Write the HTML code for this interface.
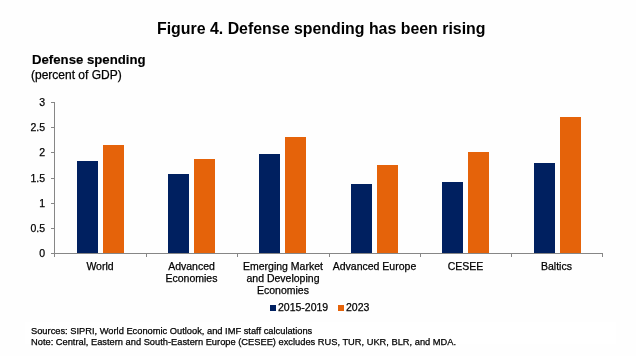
<!DOCTYPE html>
<html>
<head>
<meta charset="utf-8">
<style>
html,body{margin:0;padding:0;background:#fefefe;}
body{width:636px;height:356px;position:relative;overflow:hidden;font-family:"Liberation Sans",sans-serif;color:#000;}
.t{position:absolute;white-space:nowrap;line-height:1;will-change:transform;-webkit-text-stroke:0.25px #000;}
.c{text-align:center;}
svg{position:absolute;left:0;top:0;}
</style>
</head>
<body>
<div class="t" style="left:156.8px;top:21px;font-size:15.9px;font-weight:bold;-webkit-text-stroke:0;">Figure 4. Defense spending has been rising</div>
<div class="t" style="left:31.5px;top:53px;font-size:13.2px;font-weight:bold;-webkit-text-stroke:0.15px #000;">Defense spending</div>
<div class="t" style="left:31px;top:69px;font-size:12px;">(percent of GDP)</div>

<svg width="636" height="356" viewBox="0 0 636 356" shape-rendering="crispEdges">
  <g fill="#002060">
    <rect x="77" y="161" width="21" height="92"/>
    <rect x="168" y="174" width="21" height="79"/>
    <rect x="259" y="154" width="21" height="99"/>
    <rect x="351" y="184" width="21" height="69"/>
    <rect x="442" y="182" width="21" height="71"/>
    <rect x="534" y="163" width="21" height="90"/>
  </g>
  <g fill="#E5630A">
    <rect x="103" y="145" width="21" height="108"/>
    <rect x="194" y="159" width="21" height="94"/>
    <rect x="285" y="137" width="21" height="116"/>
    <rect x="377" y="165" width="21" height="88"/>
    <rect x="468" y="152" width="21" height="101"/>
    <rect x="560" y="117" width="21" height="136"/>
  </g>
  <g fill="#868686">
    <rect x="54" y="102" width="1" height="155"/>
    <rect x="51" y="102" width="3" height="1"/>
    <rect x="51" y="127" width="3" height="1"/>
    <rect x="51" y="152" width="3" height="1"/>
    <rect x="51" y="178" width="3" height="1"/>
    <rect x="51" y="203" width="3" height="1"/>
    <rect x="51" y="228" width="3" height="1"/>
    <rect x="51" y="253" width="552" height="1"/>
    <rect x="146" y="253" width="1" height="4"/>
    <rect x="237" y="253" width="1" height="4"/>
    <rect x="329" y="253" width="1" height="4"/>
    <rect x="420" y="253" width="1" height="4"/>
    <rect x="511" y="253" width="1" height="4"/>
    <rect x="602" y="253" width="1" height="4"/>
  </g>
</svg>

<div class="t" style="left:0;width:45px;text-align:right;top:97px;font-size:10.5px;">3</div>
<div class="t" style="left:0;width:45px;text-align:right;top:122px;font-size:10.5px;">2.5</div>
<div class="t" style="left:0;width:45px;text-align:right;top:147px;font-size:10.5px;">2</div>
<div class="t" style="left:0;width:45px;text-align:right;top:173px;font-size:10.5px;">1.5</div>
<div class="t" style="left:0;width:45px;text-align:right;top:198px;font-size:10.5px;">1</div>
<div class="t" style="left:0;width:45px;text-align:right;top:223px;font-size:10.5px;">0.5</div>
<div class="t" style="left:0;width:45px;text-align:right;top:248px;font-size:10.5px;">0</div>

<div class="t c" style="left:54px;width:92px;top:260px;font-size:10.5px;line-height:12px;">World</div>
<div class="t c" style="left:146px;width:91px;top:260px;font-size:10.5px;line-height:12px;">Advanced<br>Economies</div>
<div class="t c" style="left:237px;width:92px;top:260px;font-size:10.5px;line-height:12px;">Emerging Market<br>and Developing<br>Economies</div>
<div class="t c" style="left:329px;width:91px;top:260px;font-size:10.5px;line-height:12px;">Advanced Europe</div>
<div class="t c" style="left:420px;width:91px;top:260px;font-size:10.5px;line-height:12px;">CESEE</div>
<div class="t c" style="left:511px;width:91px;top:260px;font-size:10.5px;line-height:12px;">Baltics</div>

<div style="position:absolute;left:270px;top:305px;width:6px;height:6px;background:#002060;"></div>
<div class="t" style="left:278px;top:301.5px;font-size:10.5px;">2015-2019</div>
<div style="position:absolute;left:338px;top:305px;width:6px;height:6px;background:#E5630A;"></div>
<div class="t" style="left:346px;top:301.5px;font-size:10.5px;">2023</div>

<div style="position:absolute;left:25px;top:322px;width:591px;height:22px;background:#fff;"></div>
<div class="t" style="left:30.5px;top:326.5px;font-size:9.3px;">Sources: SIPRI, World Economic Outlook, and IMF staff calculations</div>
<div class="t" style="left:30.5px;top:338px;font-size:9.3px;">Note: Central, Eastern and South-Eastern Europe (CESEE) excludes RUS, TUR, UKR, BLR, and MDA.</div>
</body>
</html>
